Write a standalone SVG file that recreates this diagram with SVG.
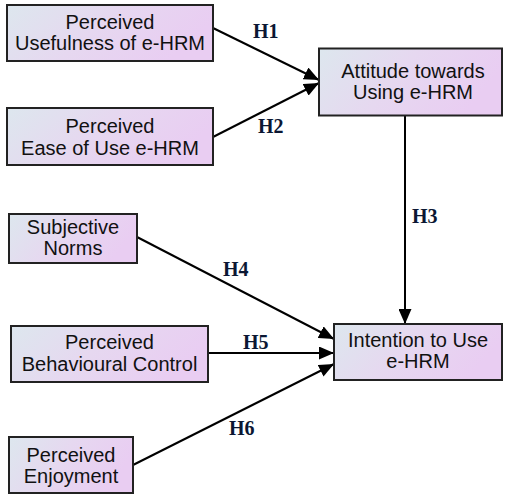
<svg xmlns="http://www.w3.org/2000/svg" width="505" height="494" viewBox="0 0 505 494">
<defs>
<linearGradient id="g" x1="0" y1="0" x2="1" y2="0.3">
<stop offset="0" stop-color="#dde7ee"/>
<stop offset="0.5" stop-color="#e6d8f0"/>
<stop offset="1" stop-color="#e9cdf2"/>
</linearGradient>
<marker id="ah" markerUnits="userSpaceOnUse" markerWidth="16" markerHeight="13" refX="15" refY="6.5" orient="auto">
<path d="M0,0 L15,6.5 L0,13 z" fill="#000"/>
</marker>
<style>
.box{fill:url(#g);stroke:#222;stroke-width:2}
.t{font-family:"Liberation Sans",Arial,sans-serif;font-size:20px;fill:#111;text-anchor:middle}
.h{font-family:"Liberation Serif","Times New Roman",serif;font-size:20px;font-weight:bold;fill:#0b1733}
.c{stroke:#000;stroke-width:2;fill:none;marker-end:url(#ah)}
</style>
</defs>
<g id="connectors">
<line class="c" x1="213" y1="28" x2="319" y2="80"/>
<line class="c" x1="213" y1="137" x2="319" y2="83"/>
<line class="c" x1="405" y1="116" x2="405" y2="324"/>
<line class="c" x1="137" y1="237" x2="334" y2="339"/>
<line class="c" x1="208" y1="353" x2="334" y2="353"/>
<line class="c" x1="133" y1="465" x2="334" y2="364"/>
<text class="h" x="253" y="38">H1</text>
<text class="h" x="258" y="133">H2</text>
<text class="h" x="412" y="223">H3</text>
<text class="h" x="223" y="276">H4</text>
<text class="h" x="243" y="349">H5</text>
<text class="h" x="229" y="435">H6</text>
</g>
<g id="pu">
<rect class="box" x="7" y="5" width="206" height="56"/>
<text class="t" x="110" y="29">Perceived</text>
<text class="t" x="110" y="50">Usefulness of e-HRM</text>
</g>
<g id="peou">
<rect class="box" x="7" y="108" width="206" height="57"/>
<text class="t" x="110" y="133">Perceived</text>
<text class="t" x="110" y="155">Ease of Use e-HRM</text>
</g>
<g id="att">
<rect class="box" x="319" y="48.5" width="183" height="67"/>
<text class="t" x="413" y="78">Attitude towards</text>
<text class="t" x="413" y="99">Using e-HRM</text>
</g>
<g id="sn">
<rect class="box" x="9" y="214" width="128" height="49"/>
<text class="t" x="73" y="234">Subjective</text>
<text class="t" x="73" y="255">Norms</text>
</g>
<g id="pbc">
<rect class="box" x="11" y="326" width="197" height="56"/>
<text class="t" x="109.5" y="349">Perceived</text>
<text class="t" x="109.5" y="371">Behavioural Control</text>
</g>
<g id="pe">
<rect class="box" x="9" y="437" width="124" height="56"/>
<text class="t" x="71" y="462">Perceived</text>
<text class="t" x="71" y="483">Enjoyment</text>
</g>
<g id="itu">
<rect class="box" x="334" y="324" width="168" height="56"/>
<text class="t" x="418" y="347">Intention to Use</text>
<text class="t" x="418" y="368">e-HRM</text>
</g>
</svg>
